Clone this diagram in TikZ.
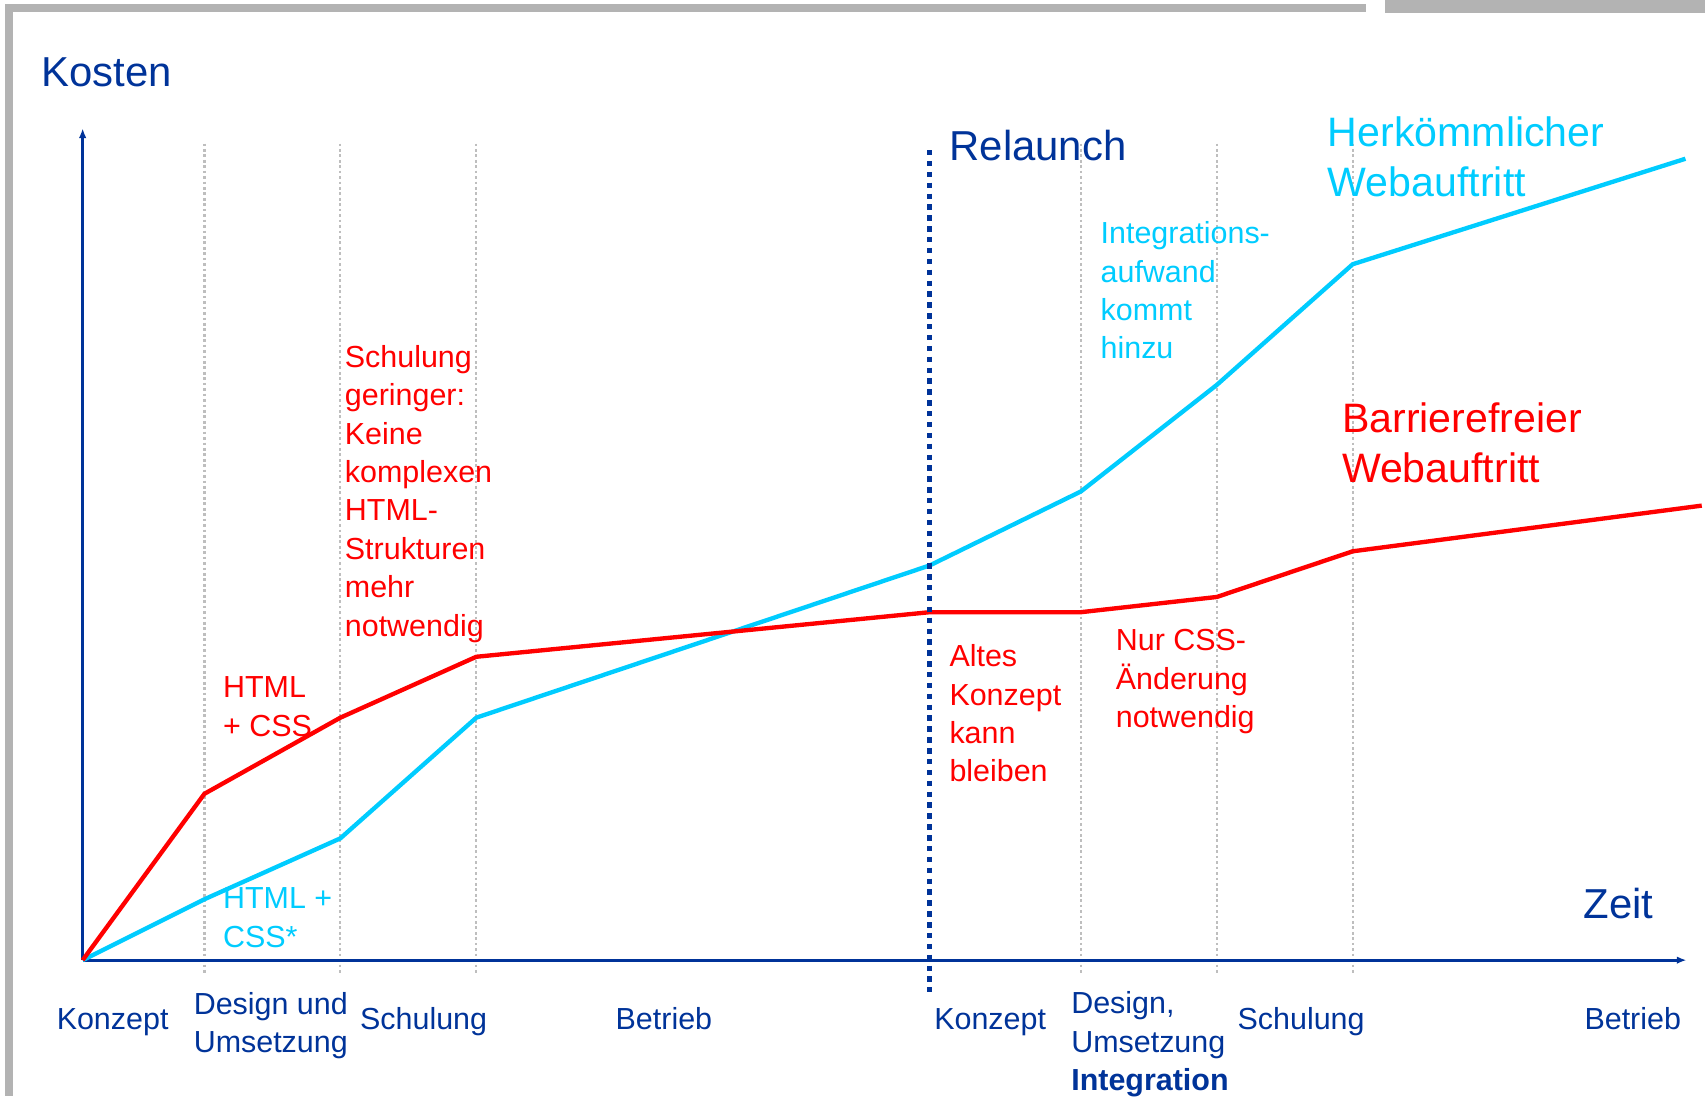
\documentclass[tikz,border=0pt]{standalone}
\usepackage{fontspec}
\setmainfont{Liberation Sans}
\usetikzlibrary{arrows.meta}
\definecolor{axblue}{RGB}{0,51,153}
\definecolor{cy}{RGB}{0,204,255}
\definecolor{rd}{RGB}{255,0,0}
\definecolor{gridgrey}{RGB}{190,190,190}
\definecolor{framegrey}{RGB}{179,179,179}
\begin{document}
\begin{tikzpicture}[x=1pt,y=-1pt,
  gridline/.style={draw=gridgrey,line width=2pt,dash pattern=on 2.5pt off 2.5pt},
  axis/.style={draw=axblue,line width=2.6pt,-{Latex[length=9pt,width=7pt]}},
  curvered/.style={draw=rd,line width=4pt,line join=round},
  curvecyan/.style={draw=cy,line width=4pt,line join=round},
  relaunchline/.style={draw=axblue,line width=4.5pt,dash pattern=on 5pt off 5pt},
  big/.style={font=\fontsize{38.5}{46}\selectfont,align=left,inner sep=0pt,anchor=base west},
  bigc/.style={big,font=\fontsize{37.8}{46}\selectfont},
  lab/.style={font=\fontsize{28}{35.3}\selectfont,align=left,inner sep=0pt,anchor=base west},
  phase/.style={lab,text=axblue}]
\useasboundingbox (0,0) rectangle (1568,1008);
% frame
\fill[framegrey] (4.6,3.7) rectangle (1256,10.7);
\fill[framegrey] (4.6,3.7) rectangle (11.7,1008);
\fill[framegrey] (1274,0) rectangle (1568,11.7);
% grid
\foreach \x in {188,313,438,994,1119,1244}
  \draw[gridline] (\x,132) -- (\x,896);
% axes
\coordinate (O) at (76,883);
\coordinate (ytop) at (76,118);
\coordinate (xend) at (1551,883);
\draw[axis] (O) -- (ytop);
\draw[axis] (O) -- (xend);
% curves
\coordinate (r1) at (188,730);
\coordinate (r2) at (313,660);
\coordinate (r3) at (438,604);
\coordinate (r4) at (855,563);
\coordinate (r5) at (994,563);
\coordinate (r6) at (1119,549);
\coordinate (r7) at (1244,507);
\coordinate (r8) at (1565,465);
\coordinate (c1) at (188,827);
\coordinate (c2) at (313,771);
\coordinate (c3) at (438,660);
\coordinate (c4) at (855,520);
\coordinate (c5) at (994,452);
\coordinate (c6) at (1119,354);
\coordinate (c7) at (1244,243);
\coordinate (c8) at (1550,146);
\draw[curvecyan] (O) -- (c1) -- (c2) -- (c3) -- (c4) -- (c5) -- (c6) -- (c7) -- (c8);
\draw[curvered] (O) -- (r1) -- (r2) -- (r3) -- (r4) -- (r5) -- (r6) -- (r7) -- (r8);
% relaunch
\coordinate (rtop) at (855,138);
\coordinate (rbot) at (855,912);
\draw[relaunchline] (rtop) -- (rbot);
% titles (anchor = baseline of last line)
\node[big,text=axblue] (kosten) at (38,80) {Kosten};
\node[big,text=axblue] (relaunch) at (873,148) {Relaunch};
\node[big,text=axblue] (zeit) at (1456,845) {Zeit};
\node[bigc,text=cy] (herk) at (1221,181) {Herkömmlicher\\Webauftritt};
\node[bigc,text=rd] (barr) at (1234,444) {Barrierefreier\\Webauftritt};
% annotations
\node[lab,text=rd] (schul) at (317,585) {Schulung\\geringer:\\Keine\\komplexen\\HTML-\\Strukturen\\mehr\\notwendig};
\node[lab,text=rd] (htmlr) at (205,677) {HTML\\+ CSS};
\node[lab,text=cy] (htmlc) at (205,871) {HTML +\\CSS*};
\node[lab,text=cy] (integ) at (1012,330) {Integrations-\\aufwand\\kommt\\hinzu};
\node[lab,text=rd] (altes) at (873,719) {Altes\\Konzept\\kann\\bleiben};
\node[lab,text=rd] (nurcss) at (1026,669) {Nur CSS-\\Änderung\\notwendig};
% phases
\node[phase] (p1) at (52,947) {Konzept};
\node[phase] (p2) at (178,968) {Design und\\Umsetzung};
\node[phase] (p3) at (331,947) {Schulung};
\node[phase] (p4) at (566,947) {Betrieb};
\node[phase] (p5) at (859,947) {Konzept};
\node[phase] (p6) at (985,1003) {Design,\\Umsetzung\\\textbf{Integration}};
\node[phase] (p7) at (1138,947) {Schulung};
\node[phase] (p8) at (1457,947) {Betrieb};
\end{tikzpicture}
\end{document}
